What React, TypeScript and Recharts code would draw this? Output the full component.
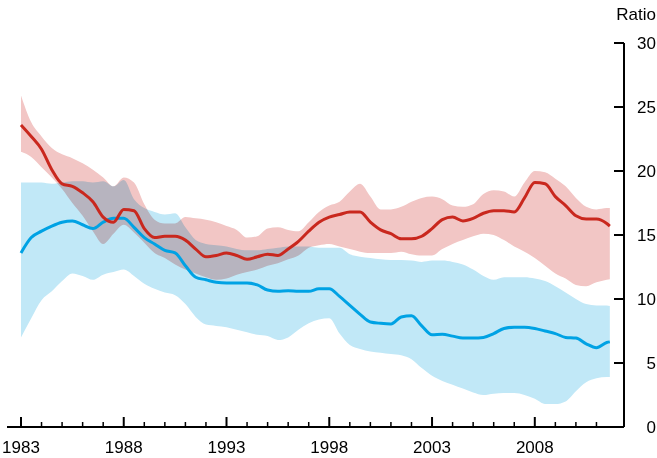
import React from 'react';
import { ComposedChart, Area, Line, XAxis, YAxis } from 'recharts';

const years = [
  1983, 1983.5, 1984, 1984.5, 1985, 1985.5, 1986, 1986.5, 1987, 1987.5,
  1988, 1988.5, 1989, 1989.5, 1990, 1990.5, 1991, 1991.5, 1992, 1992.5,
  1993, 1993.5, 1994, 1994.5, 1995, 1995.5, 1996, 1996.5, 1997, 1997.5,
  1998, 1998.5, 1999, 1999.5, 2000, 2000.5, 2001, 2001.5, 2002, 2002.5,
  2003, 2003.5, 2004, 2004.5, 2005, 2005.5, 2006, 2006.5, 2007, 2007.5,
  2008, 2008.5, 2009, 2009.5, 2010, 2010.5, 2011, 2011.5, 2011.65,
];

const redLine = [
  23.6, 22.7, 21.7, 20.1, 19.0, 18.8, 18.3, 17.6, 16.4, 16.0,
  17.0, 16.9, 15.5, 14.8, 14.9, 14.9, 14.6, 13.9, 13.3, 13.4,
  13.6, 13.4, 13.1, 13.3, 13.5, 13.4, 13.9, 14.5, 15.3, 16.0,
  16.4, 16.6, 16.8, 16.8, 16.0, 15.4, 15.1, 14.7, 14.7, 14.9,
  15.5, 16.2, 16.4, 16.1, 16.3, 16.7, 16.9, 16.9, 16.8, 17.9,
  19.1, 19.0, 18.0, 17.3, 16.5, 16.25, 16.25, 15.9, 15.7,
];

const blueLine = [
  13.6, 14.8, 15.3, 15.7, 16.0, 16.1, 15.8, 15.5, 16.0, 16.3,
  16.3, 15.6, 14.8, 14.3, 13.8, 13.6, 12.6, 11.7, 11.5, 11.3,
  11.25, 11.25, 11.25, 11.1, 10.7, 10.6, 10.65, 10.6, 10.6, 10.8,
  10.8, 10.2, 9.5, 8.8, 8.2, 8.1, 8.05, 8.6, 8.7, 7.9,
  7.2, 7.25, 7.1, 6.95, 6.95, 7.0, 7.3, 7.7, 7.8, 7.8,
  7.7, 7.5, 7.3, 7.0, 6.95, 6.5, 6.2, 6.6, 6.65,
];

const redHigh = [
  25.9, 23.8, 22.7, 21.8, 21.3, 21.0, 20.6, 20.1, 19.5, 18.8,
  19.5, 19.1, 17.4, 16.2, 15.9, 15.9, 16.4, 16.3, 16.2, 16.0,
  15.7, 15.4, 14.8, 14.9, 15.5, 15.6, 15.4, 15.3, 16.0, 16.8,
  17.3, 17.6, 18.4, 19.0, 18.0, 17.0, 17.0, 17.2, 17.6, 17.9,
  18.0, 17.8, 17.3, 17.2, 17.4, 18.2, 18.5, 18.4, 18.0, 19.1,
  20.0, 19.9, 19.4, 18.8, 17.9, 17.2, 17.0, 17.1, 17.1,
];

const redLow = [
  21.5, 21.1, 20.3, 19.5, 18.6, 17.5, 16.5, 15.3, 14.3, 15.1,
  15.8, 15.2, 14.4, 13.6, 13.2, 12.7, 12.3, 12.0, 11.7, 11.5,
  11.6, 11.9, 12.1, 12.3, 12.6, 12.8, 13.1, 13.4, 14.0, 14.2,
  14.3, 14.1, 13.9, 13.7, 13.6, 13.6, 13.6, 13.7, 13.5, 13.4,
  13.4, 13.9, 14.3, 14.6, 14.9, 15.1, 15.0, 14.6, 14.1, 13.7,
  13.2, 12.6, 12.0, 11.6, 11.1, 11.0, 11.3, 11.5, 11.55,
];

const blueHigh = [
  19.1, 19.1, 19.1, 19.0, 19.1, 19.2, 19.2, 19.1, 19.2, 18.8,
  19.3, 17.8, 17.1, 16.8, 16.6, 16.7, 15.6, 14.6, 14.3, 14.2,
  14.1, 13.9, 13.8, 13.8, 13.9, 14.0, 14.1, 14.1, 14.1, 14.0,
  14.0, 14.0, 13.5, 13.3, 13.2, 13.1, 13.05, 13.05, 13.0, 12.9,
  13.0, 13.0, 12.9, 12.7, 12.3, 11.8, 11.5, 11.7, 11.7, 11.7,
  11.6, 11.4, 11.0, 10.5, 10.0, 9.6, 9.5, 9.5, 9.45,
];

const blueLow = [
  7.0, 8.5, 9.9, 10.6, 11.4, 12.0, 11.8, 11.5, 11.9, 12.1,
  12.3, 11.8, 11.2, 10.8, 10.5, 10.3, 9.6, 8.6, 8.0, 7.9,
  7.8, 7.6, 7.4, 7.2, 7.1, 6.8, 7.0, 7.6, 8.1, 8.4,
  8.5, 7.3, 6.4, 6.1, 5.9, 5.8, 5.7, 5.6, 5.3, 4.6,
  4.0, 3.6, 3.3, 3.0, 2.7, 2.5, 2.6, 2.65, 2.65, 2.5,
  2.2, 1.8, 1.8, 2.0, 2.8, 3.5, 3.8, 3.9, 3.9,
];

const yTicks = [0, 5, 10, 15, 20, 25, 30];
const xTicks = [
  1983, 1984, 1985, 1986, 1987, 1988, 1989, 1990, 1991, 1992,
  1993, 1994, 1995, 1996, 1997, 1998, 1999, 2000, 2001, 2002,
  2003, 2004, 2005, 2006, 2007, 2008, 2009, 2010, 2011,
];
const majorYears = [1983, 1988, 1993, 1998, 2003, 2008];

const data = years.map((year, i) => ({
  year,
  red: redLine[i],
  blue: blueLine[i],
  redBand: [redLow[i], redHigh[i]],
  blueBand: [blueLow[i], blueHigh[i]],
}));

const FONT = '"Liberation Sans", Arial, Helvetica, sans-serif';
const FS = 17;

const XTick = (props: any) => {
  const { x, y, payload } = props;
  const major = majorYears.includes(payload.value);
  return (
    <g>
      <line x1={x} x2={x} y1={y} y2={y - (major ? 10 : 5)} stroke="#000" strokeWidth={major ? 2 : 1.5} />
      {major && (
        <text x={x} y={y + 26} textAnchor="middle" fontSize={FS} fontFamily={FONT} fill="#000">
          {payload.value}
        </text>
      )}
    </g>
  );
};

const LeftTick = (props: any) => {
  const { x, y } = props;
  return <line x1={x} x2={x + 9} y1={y} y2={y} stroke="#000" strokeWidth={2} />;
};

const RightTick = (props: any) => {
  const { x, y, payload } = props;
  return (
    <g>
      <line x1={x - 10} x2={x} y1={y} y2={y} stroke="#000" strokeWidth={2} />
      <text x={x + 32} y={y} dy="0.36em" textAnchor="end" fontSize={FS} fontFamily={FONT} fill="#000">
        {payload.value}
      </text>
    </g>
  );
};

export default function App() {
  return (
    <div style={{ position: 'absolute', left: 0, top: 0, width: 657, height: 458, background: '#fff' }}>
      <style>{`.band-red { mix-blend-mode: multiply; }`}</style>
      <div
        style={{
          position: 'absolute',
          right: 1,
          top: 6,
          fontFamily: FONT,
          fontSize: FS,
          lineHeight: '18px',
          color: '#000',
        }}
      >
        Ratio
      </div>
      <ComposedChart
        width={657}
        height={458}
        data={data}
        margin={{ top: 43, right: 0, left: 7, bottom: 0 }}
      >
        <XAxis
          dataKey="year"
          type="number"
          domain={[1982.32, 2012.34]}
          allowDataOverflow
          ticks={xTicks}
          interval={0}
          height={31}
          tickSize={0}
          tickMargin={0}
          tickLine={false}
          tick={(p: any) => <XTick {...p} />}
          axisLine={{ stroke: '#000', strokeWidth: 2 }}
        />
        <YAxis
          yAxisId="left"
          orientation="left"
          width={0}
          domain={[0, 30]}
          ticks={yTicks}
          interval={0}
          tickSize={0}
          tickMargin={0}
          tickLine={false}
          tick={(p: any) => <LeftTick {...p} />}
          axisLine={{ stroke: '#000', strokeWidth: 2 }}
        />
        <YAxis
          yAxisId="right"
          orientation="right"
          width={33}
          domain={[0, 30]}
          ticks={yTicks}
          interval={0}
          tickSize={0}
          tickMargin={0}
          tickLine={false}
          tick={(p: any) => <RightTick {...p} />}
          axisLine={{ stroke: '#000', strokeWidth: 2 }}
        />
        <Area
          yAxisId="right"
          dataKey="blueBand"
          type="monotone"
          className="band-blue"
          fill="#c1e8f7"
          fillOpacity={1}
          stroke="none"
          isAnimationActive={false}
        />
        <Area
          yAxisId="right"
          dataKey="redBand"
          type="monotone"
          className="band-red"
          fill="#f2c6c5"
          fillOpacity={1}
          stroke="none"
          isAnimationActive={false}
        />
        <Line
          yAxisId="right"
          dataKey="blue"
          type="monotone"
          stroke="#00a2e4"
          strokeWidth={3}
          dot={false}
          isAnimationActive={false}
        />
        <Line
          yAxisId="right"
          dataKey="red"
          type="monotone"
          stroke="#c9281e"
          strokeWidth={3}
          dot={false}
          isAnimationActive={false}
        />
      </ComposedChart>
    </div>
  );
}
